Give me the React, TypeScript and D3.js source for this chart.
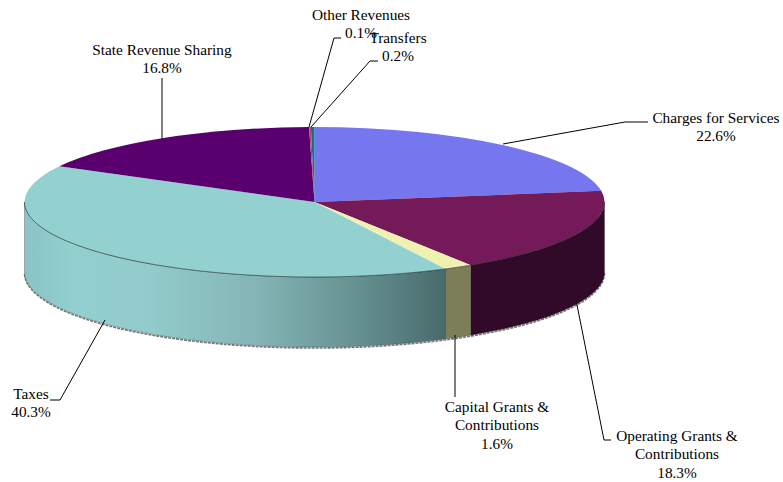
import React from 'react'
import * as d3 from 'd3'

// values in drawing order, clockwise from 12 o'clock
const categories = ['Charges for Services', 'Operating Grants & Contributions', 'Capital Grants & Contributions', 'Taxes', 'State Revenue Sharing', 'Other Revenues', 'Transfers']
const shares = [22.6, 18.3, 1.6, 40.3, 16.8, 0.1, 0.2]
const topColors = ['#7676ee', '#751a58', '#f0f0b0', '#93d0d0', '#5a006e', '#c04060', '#1070a0']
const sideColors = ['#3a3a77', '#300a28', '#7d7d5a', '#93d0d0', '#2d0037', '#602030', '#083850']

const labelLines = [
  ['Charges for Services', '22.6%'],
  ['Operating Grants &', 'Contributions', '18.3%'],
  ['Capital Grants &', 'Contributions', '1.6%'],
  ['Taxes', '40.3%'],
  ['State Revenue Sharing', '16.8%'],
  ['Other Revenues', '0.1%'],
  ['Transfers', '0.2%'],
]
const labelPos: [number, number][] = [
  [716, 123], [677, 441], [497, 412], [31, 399], [162, 55], [361, 20], [398, 43],
]
const leaders: [number, number][][] = [
  [[503, 144], [625, 122], [648, 122]],
  [[576, 300], [604, 440], [611, 440]],
  [[455, 335], [455, 397]],
  [[105, 320], [60, 400], [50, 400]],
  [[162, 139], [162, 78]],
  [[309, 127], [334, 38], [341, 38]],
  [[311, 127], [370, 61], [378, 61]],
]
const taxGradient: [number, string][] = [
  [0, '#8ac4c4'], [0.12, '#92cfcf'], [0.3, '#92cbcb'], [0.55, '#85b5b6'], [0.8, '#64908f'], [1, '#4a6a6c'],
]

const cx = 314.5
const cy = 202
const rx = 290
const ry = 75
const depth = 70

const pie = d3.pie<number>().sort(null).value(d => d)
const slices = pie(shares)
const arc = d3.arc<d3.PieArcDatum<number>>().innerRadius(0).outerRadius(rx)

const px = (a: number) => cx + rx * Math.sin(a)
const py = (a: number) => cy - ry * Math.cos(a)

// wall of one slice, only the part that faces the viewer
const side = d3.area<number>().x(a => px(a)).y0(a => py(a)).y1(a => py(a) + depth)
const wall = (s: d3.PieArcDatum<number>) => {
  const a0 = Math.max(s.startAngle, Math.PI / 2)
  const a1 = Math.min(s.endAngle, (3 * Math.PI) / 2)
  if (a1 <= a0) return null
  return side(d3.range(0, 61).map(i => a0 + ((a1 - a0) * i) / 60))
}
const rimAngles = d3.range(0, 121).map(i => Math.PI / 2 + (Math.PI * i) / 120)
const rim = d3.line<number>().x(a => px(a)).y(a => py(a) + depth)
const frontEdge = d3.line<number>().x(a => px(a)).y(a => py(a))
const leaderLine = d3.line()

export default function App() {
  return (
    <svg width={783} height={482} style={{ position: 'absolute', left: 0, top: 0 }} fontFamily="'Liberation Serif', serif" fontSize={15.3}>
      <defs>
        <linearGradient id="taxWall" gradientUnits="userSpaceOnUse" x1={24} x2={445} y1={0} y2={0}>
          {taxGradient.map(([o, c]) => <stop key={o} offset={o} stopColor={c} />)}
        </linearGradient>
      </defs>
      <path d={rim(rimAngles) ?? ''} transform="translate(0,1)" fill="none" stroke="#777" strokeWidth={1.6} strokeDasharray="3 1" />
      {slices.map((s, i) => {
        const d = wall(s)
        return d && (
          <path key={categories[i]} d={d} fill={categories[i] === 'Taxes' ? 'url(#taxWall)' : sideColors[i]} stroke="#222" strokeWidth={0.5} strokeOpacity={0.6} />
        )
      })}
      <g transform={`translate(${cx},${cy}) scale(1,${ry / rx})`}>
        {slices.map((s, i) => (
          <path key={categories[i]} d={arc(s) ?? ''} fill={topColors[i]} />
        ))}
      </g>
      <path d={frontEdge(rimAngles) ?? ''} fill="none" stroke="#1a2a2a" strokeWidth={0.7} strokeOpacity={0.8} />
      {leaders.map((pts, i) => (
        <path key={categories[i]} d={leaderLine(pts) ?? ''} fill="none" stroke="#000" strokeWidth={1} />
      ))}
      {labelLines.map((lines, i) => (
        <text key={categories[i]} textAnchor="middle" fill="#000">
          {lines.map((t, j) => (
            <tspan key={j} x={labelPos[i][0]} y={labelPos[i][1] + j * 18.3}>{t}</tspan>
          ))}
        </text>
      ))}
    </svg>
  )
}
